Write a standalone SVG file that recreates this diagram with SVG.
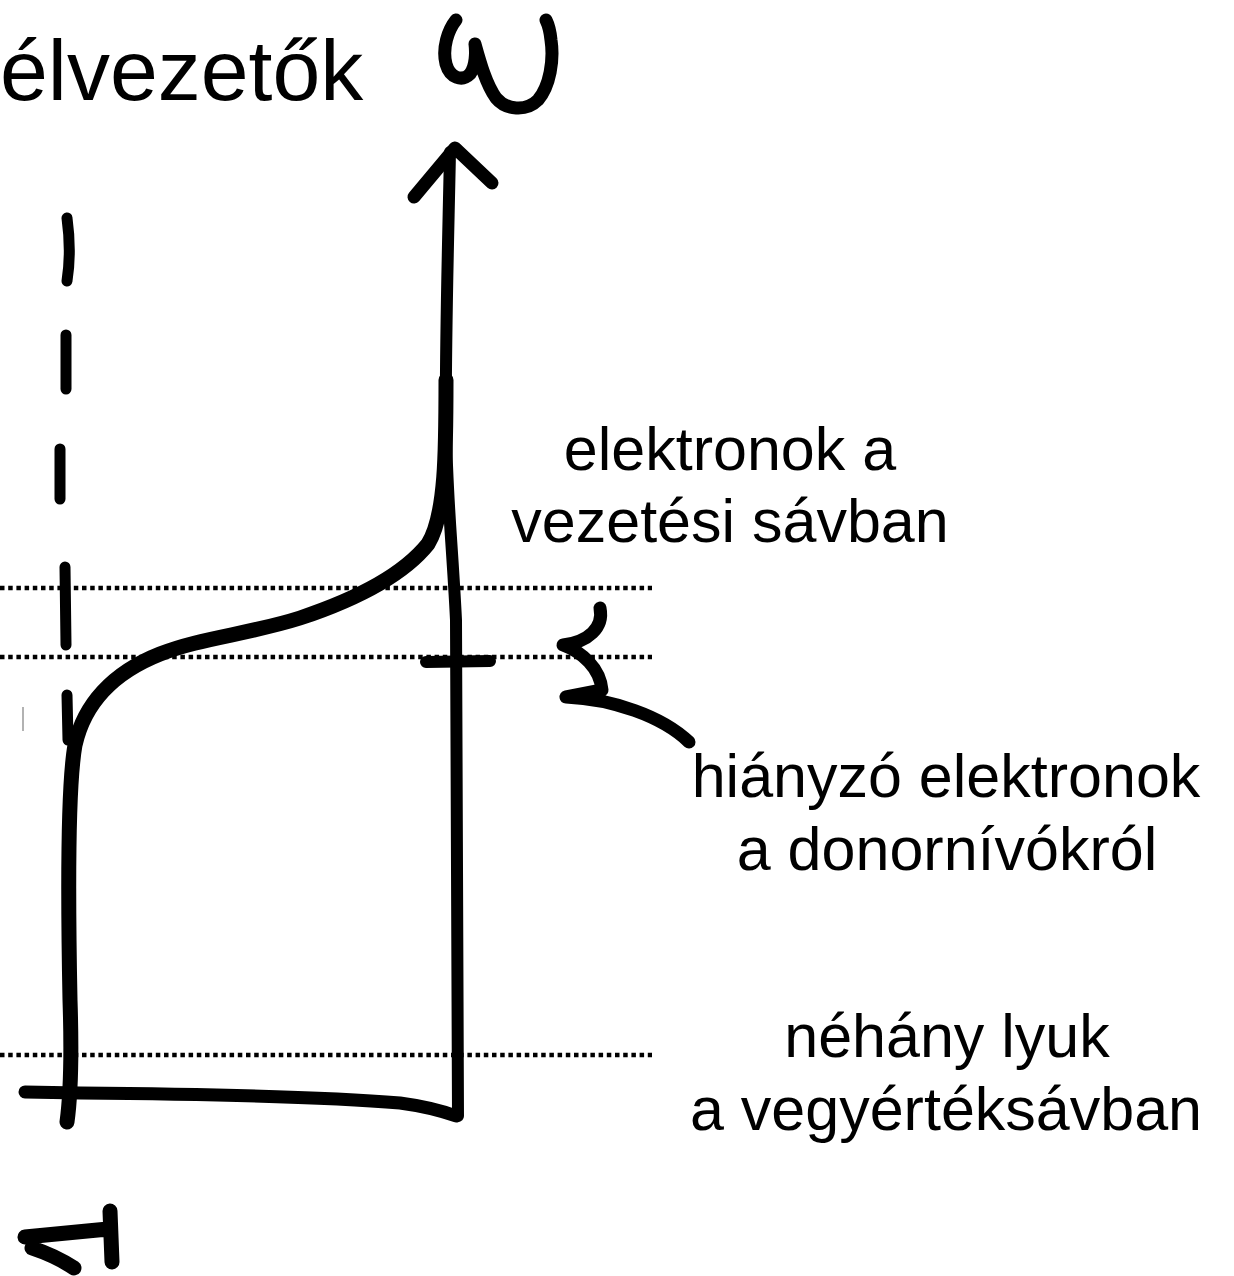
<svg xmlns="http://www.w3.org/2000/svg" width="1234" height="1276" viewBox="0 0 1234 1276">
  <style>
    .lbl { font-family: "Liberation Sans", Arial, sans-serif; font-size: 61px; fill: #000; text-anchor: middle; }
    .ttl { font-family: "Liberation Sans", Arial, sans-serif; font-size: 86px; fill: #000; }
    .ink { fill: none; stroke: #000; stroke-linecap: round; stroke-linejoin: round; }
    .dot { fill: none; stroke: #000; stroke-width: 4.5; stroke-dasharray: 4.5 3.7; }
  </style>
  <rect width="1234" height="1276" fill="#fff"/>
  <text class="ttl" x="0" y="100">élvezetők</text>
  <g id="omega">
    <path class="ink" stroke-width="13" d="M456,20 C448,30 442,48 446,64 C450,78 462,82 470,74 C476,66 476,52 475,44 C480,62 486,84 496,98 C506,110 526,112 538,100 C550,86 554,60 551,40 C550,30 548,24 546,20"/>
  </g>
  <g id="dotted-lines">
    <line class="dot" x1="0" y1="588" x2="652" y2="588"/>
    <line class="dot" x1="0" y1="657" x2="652" y2="657"/>
    <line class="dot" x1="0" y1="1055" x2="652" y2="1055"/>
  </g>
  <g id="dashed-left">
    <path class="ink" stroke-width="11" d="M67,218 C70,240 70,262 67,281 M66,335 L66,389 M60,449 L60,499 M65,567 L66,645 M67,695 L68,740"/>
    <line x1="23" y1="707" x2="23" y2="731" stroke="#999" stroke-width="1.5"/>
  </g>
  <g id="axis">
    <path class="ink" stroke-width="12" d="M450,152 C448,250 445,350 446,430 C447,500 452,540 456,620 L458,1116"/>
    <path class="ink" stroke-width="13" d="M414,197 L455,148 L492,183"/>
    <line class="ink" stroke-width="12" x1="426" y1="662" x2="490" y2="661"/>
  </g>
  <g id="curve">
    <path class="ink" stroke-width="15" d="M446,380 C446,450 446,515 428,544 C404,574 360,598 300,618 C250,634 200,638 160,654 C112,673 84,705 75,745 C67,790 68,900 70,1000 C72,1060 70,1100 67,1122"/>
    <path class="ink" stroke-width="13" d="M25,1092 L80,1093 C200,1094 330,1097 400,1103 C430,1107 445,1112 456,1116"/>
  </g>
  <g id="brace">
    <path class="ink" stroke-width="13" d="M600,608 C604,628 588,642 563,645 C582,652 600,668 602,690 L566,697 C612,699 662,716 689,742"/>
  </g>
  <g id="bottom-mark">
    <path class="ink" stroke-width="15" d="M25,1237 L108,1229 M110,1211 L112,1262 M32,1248 Q56,1256 74,1268"/>
  </g>
  <g id="labels">
    <text class="lbl" x="730" y="470">elektronok a</text>
    <text class="lbl" x="730" y="542">vezetési sávban</text>
    <text class="lbl" x="946" y="797">hiányzó elektronok</text>
    <text class="lbl" x="947" y="870">a donornívókról</text>
    <text class="lbl" x="947" y="1057">néhány lyuk</text>
    <text class="lbl" x="946" y="1130">a vegyértéksávban</text>
  </g>
</svg>
